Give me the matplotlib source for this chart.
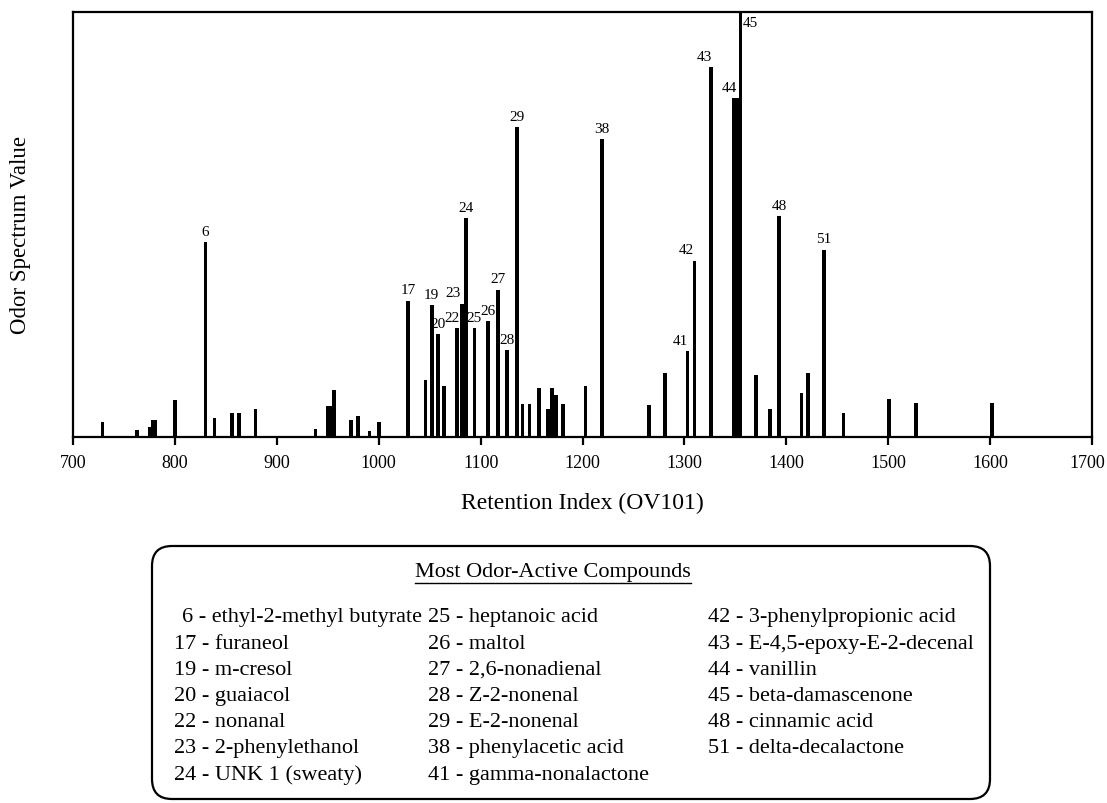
import matplotlib
matplotlib.use("Agg")
import matplotlib.pyplot as plt
from matplotlib.patches import FancyBboxPatch
from matplotlib.transforms import ScaledTranslation

plt.rcParams["font.family"] = ["Liberation Serif", "DejaVu Serif"]

# retention index (OV101) of each olfactometry peak and its odor spectrum value
retention_index = [729, 763, 775, 778, 781, 800, 830, 839, 856, 863, 879,
                   938, 950, 953, 956, 973, 980, 991, 1000, 1029, 1046, 1052,
                   1058, 1064, 1077, 1082, 1086, 1094, 1107, 1117, 1126, 1136,
                   1141, 1148, 1157, 1166, 1170, 1174, 1181, 1203, 1219, 1265,
                   1281, 1303, 1310, 1326, 1349, 1352, 1355, 1370, 1384, 1393,
                   1415, 1421, 1437, 1456, 1501, 1527, 1602]
odor_value = [3.5, 1.7, 2.4, 3.9, 3.9, 8.8, 45.8, 4.5, 5.6, 5.6, 6.7,
              1.9, 7.2, 7.2, 11.0, 4.1, 5.0, 1.4, 3.6, 32.1, 13.3, 31.1,
              24.2, 11.9, 25.7, 31.4, 51.6, 25.7, 27.3, 34.7, 20.5, 73.0,
              7.8, 7.8, 11.5, 6.7, 11.5, 9.9, 7.8, 11.9, 70.1, 7.6,
              15.1, 20.3, 41.5, 87.1, 79.7, 79.7, 100.0, 14.5, 6.6, 52.0,
              10.4, 15.1, 44.1, 5.7, 8.9, 7.9, 7.9]

# peak number printed above the labelled peaks
peak_ri = [830, 1029, 1052, 1058, 1077, 1082, 1086, 1094, 1107, 1117, 1126,
           1136, 1219, 1303, 1310, 1326, 1352, 1355, 1393, 1437]
peak_num = [6, 17, 19, 20, 22, 23, 24, 25, 26, 27, 28, 29, 38, 41, 42, 43,
            44, 45, 48, 51]

compounds = [
    (6, "ethyl-2-methyl butyrate"), (17, "furaneol"), (19, "m-cresol"),
    (20, "guaiacol"), (22, "nonanal"), (23, "2-phenylethanol"),
    (24, "UNK 1 (sweaty)"), (25, "heptanoic acid"), (26, "maltol"),
    (27, "2,6-nonadienal"), (28, "Z-2-nonenal"), (29, "E-2-nonenal"),
    (38, "phenylacetic acid"), (41, "gamma-nonalactone"),
    (42, "3-phenylpropionic acid"), (43, "E-4,5-epoxy-E-2-decenal"),
    (44, "vanillin"), (45, "beta-damascenone"), (48, "cinnamic acid"),
    (51, "delta-decalactone"),
]

W, H = 1107, 804
fig = plt.figure(figsize=(W / 100, H / 100), dpi=100)
ax = fig.add_axes([73 / W, 1 - 438 / H, (1092 - 73) / W, (438 - 13) / H])

ax.bar(retention_index, odor_value, width=3.6, color="black", linewidth=0)
ax.set_xlim(700, 1700)
ax.set_ylim(0, 100)
ax.set_xticks(range(700, 1701, 100))
ax.set_yticks([])
for s in ax.spines.values():
    s.set_linewidth(1.6)
ax.tick_params(axis="x", direction="out", length=6, width=1.6,
               labelsize=13, pad=6.5)

# last label sits against the figure edge; pull it in a little
last = ax.get_xticklabels()[-1]
last.set_transform(last.get_transform()
                   + ScaledTranslation(-5 / 100, 0, fig.dpi_scale_trans))

ax.set_xlabel("Retention Index (OV101)", fontsize=17, labelpad=15)
ax.set_ylabel("Odor Spectrum Value", fontsize=16.5)
ax.yaxis.set_label_coords(-0.041, 0.478)

# small sideways nudges (points) so crowded labels sit like the original
nudge = {22: -4, 23: -7, 41: -5, 42: -6, 43: -5, 44: -6}
lookup = dict(zip(retention_index, odor_value))
for ri, n in zip(peak_ri, peak_num):
    v = lookup[ri]
    if n == 45:
        ax.annotate(str(n), (ri, v), xytext=(2, -3), textcoords="offset points",
                    ha="left", va="top", fontsize=11)
        continue
    ax.annotate(str(n), (ri, v), xytext=(nudge.get(n, 0), 3),
                textcoords="offset points", ha="center", va="bottom",
                fontsize=11)

# legend box drawn in pixel coordinates
lay = fig.add_axes([0, 0, 1, 1], zorder=-1)
lay.set_xlim(0, W)
lay.set_ylim(H, 0)
lay.axis("off")
box = FancyBboxPatch((152, 547), 990 - 152, 800 - 547,
                     boxstyle="round,pad=0,rounding_size=20",
                     fc="none", ec="black", lw=1.6)
lay.add_patch(box)

title = lay.text(553, 573, "Most Odor-Active Compounds", ha="center",
                 va="center", fontsize=16)
fig.canvas.draw()
bb = title.get_window_extent()
lay.plot([bb.x0, bb.x1], [H - bb.y0 + 1, H - bb.y0 + 1], color="black", lw=1)

col_x = [174, 428, 708]
row_y0, row_dy = 618, 26.2
for i, (n, name) in enumerate(compounds):
    c, r = i // 7, i % 7
    x = col_x[c] + (8 if n < 10 else 0)
    lay.text(x, row_y0 + r * row_dy, f"{n} - {name}", ha="left",
             va="center", fontsize=16)

fig.savefig("out.png", dpi=100)
